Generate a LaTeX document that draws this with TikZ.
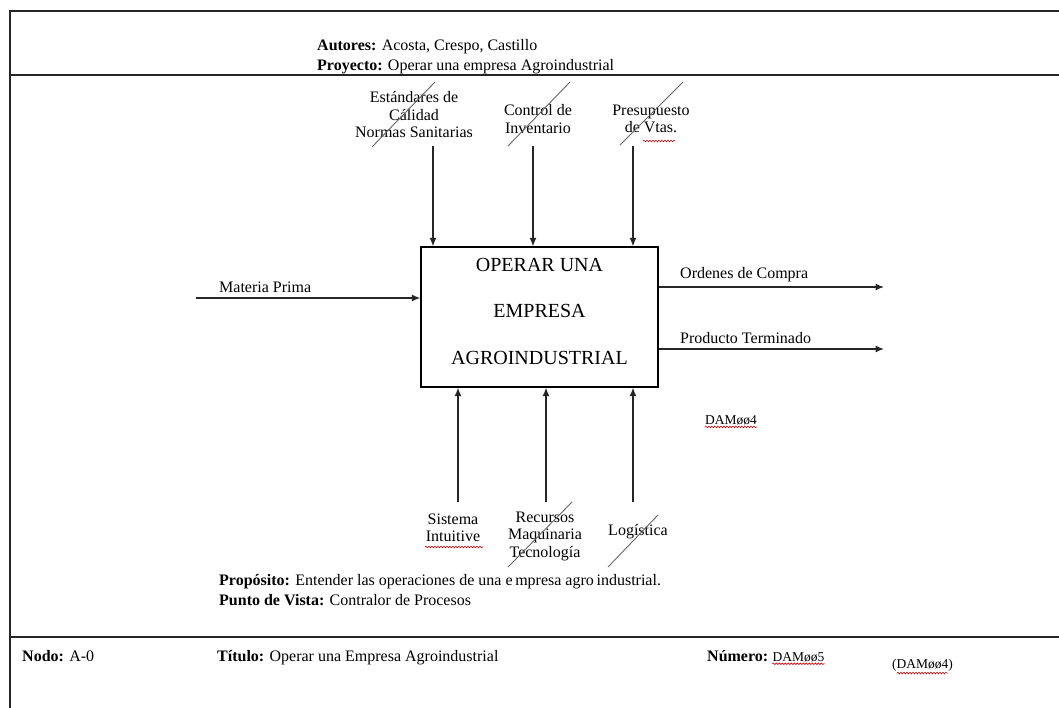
\documentclass[tikz,border=0pt]{standalone}
\usepackage{fontspec}
\setmainfont{Liberation Serif}
\usetikzlibrary{arrows.meta,decorations.pathmorphing}
\begin{document}
\begin{tikzpicture}[x=1pt,y=-1pt,
  frame/.style={line width=2.2pt, draw=black!85},
  arr/.style={line width=1.3pt, draw=black!85, -{Latex[length=8.5pt,width=7pt]}},
  lbl/.style={font=\fontsize{16}{17.5}\selectfont, inner sep=0pt, align=center},
  txt/.style={font=\fontsize{16}{18}\selectfont, inner sep=0pt, anchor=base west},
  small/.style={font=\fontsize{13.5}{16}\selectfont, inner sep=0pt},
  slash/.style={draw=black!60, line width=0.9pt},
  spell/.style={draw=red!80!black, line width=0.6pt, decorate,
    decoration={snake, amplitude=0.8pt, segment length=3pt}},
]
\useasboundingbox (0,0) rectangle (1059,708);
\fill[white] (0,0) rectangle (1059,708);

% form frame (runs past the right and lower page edges)
\begin{scope}
  \clip (0,0) rectangle (1059,708);
  \draw[frame] (1070,11) -- (10,11) -- (10,720);
  \draw[frame] (10,75) -- (1070,75);
  \draw[frame] (10,637) -- (1070,637);
\end{scope}

% header
\node[txt] (autores) at (317,51) {\textbf{Autores:} Acosta, Crespo, Castillo};
\node[txt] (proyecto) at (317,71) {\textbf{Proyecto:} Operar una empresa Agroindustrial};

% activity box
\node[draw, line width=1.3pt, minimum width=237pt, minimum height=140pt, inner sep=0pt]
  (box) at (539.5,317) {};
\node[font=\fontsize{20}{46.5}\selectfont, align=center, inner sep=0pt,
      text=black, draw=none]
  (boxtext) at (539.5,311) {OPERAR UNA\\EMPRESA\\AGROINDUSTRIAL};

% controls
\node[lbl] (c1) at (414,115) {Estándares de\\Cálidad\\Normas Sanitarias};
\node[lbl] (c2) at (538,119) {Control de\\Inventario};
\node[lbl] (c3) at (651,119) {Presupuesto\\de Vtas.};
\coordinate (c1s) at (433,146);
\coordinate (c2s) at (533,146);
\coordinate (c3s) at (633,146);
\draw[arr] (c1s) -- (c1s |- box.north);
\draw[arr] (c2s) -- (c2s |- box.north);
\draw[arr] (c3s) -- (c3s |- box.north);
\draw[slash] (372,147) -- (435,82);
\draw[slash] (508,146) -- (570,82);
\draw[slash] (620,145) -- (683,82);
\draw[spell] (643,141) -- (675,141);

% input
\coordinate (inS) at (196,298);
\draw[arr] (inS) -- (inS -| box.west);
\node[txt] (mp) at (219,293) {Materia Prima};

% outputs
\coordinate (o1) at (884,287);
\coordinate (o2) at (884,349);
\draw[arr] (box.east |- o1) -- (o1);
\draw[arr] (box.east |- o2) -- (o2);
\node[txt] (oc) at (680,279) {Ordenes de Compra};
\node[txt] (pt) at (680,343) {Producto Terminado};

\node[small, anchor=west] (dam) at (705,420) {DAMøø4};
\draw[spell] ([yshift=-2pt]dam.south west) -- ([yshift=-2pt]dam.south east);

% mechanisms
\coordinate (m1) at (458,502);
\coordinate (m2) at (546,502);
\coordinate (m3) at (633,502);
\draw[arr] (m1) -- (m1 |- box.south);
\draw[arr] (m2) -- (m2 |- box.south);
\draw[arr] (m3) -- (m3 |- box.south);
\node[lbl] (s1) at (453,528) {Sistema\\Intuitive};
\node[lbl] (s2) at (545,536) {Recursos\\Maquinaria\\Tecnología};
\node[lbl] (s3) at (638,532) {Logística};
\draw[slash] (508,567) -- (572,502);
\draw[slash] (608,567) -- (658,515);
\draw[spell] (425,547) -- (483,547);

% purpose and viewpoint
\node[txt] (prop) at (219,585) {\textbf{Propósito:} Entender las operaciones de una e\,mpresa agro\,industrial.};
\node[txt] (pv) at (219,605) {\textbf{Punto de Vista:} Contralor de Procesos};

% footer
\node[txt] (nodo) at (22,661) {\textbf{Nodo:} A-0};
\node[txt] (titulo) at (217,661) {\textbf{Título:} Operar una Empresa Agroindustrial};
\node[txt] (numero) at (707,661) {\textbf{Número:}};
\node[small, anchor=base west] (n5) at ([xshift=4pt]numero.base east) {DAMøø5};
\draw[spell] ([yshift=-2pt]n5.south west) -- ([yshift=-2pt]n5.south east);
\node[small, anchor=base west] (n4) at (892,668) {(DAMøø4)};
\draw[spell] ([yshift=-2pt,xshift=5pt]n4.south west) -- ([yshift=-2pt,xshift=-5pt]n4.south east);
\end{tikzpicture}
\end{document}
